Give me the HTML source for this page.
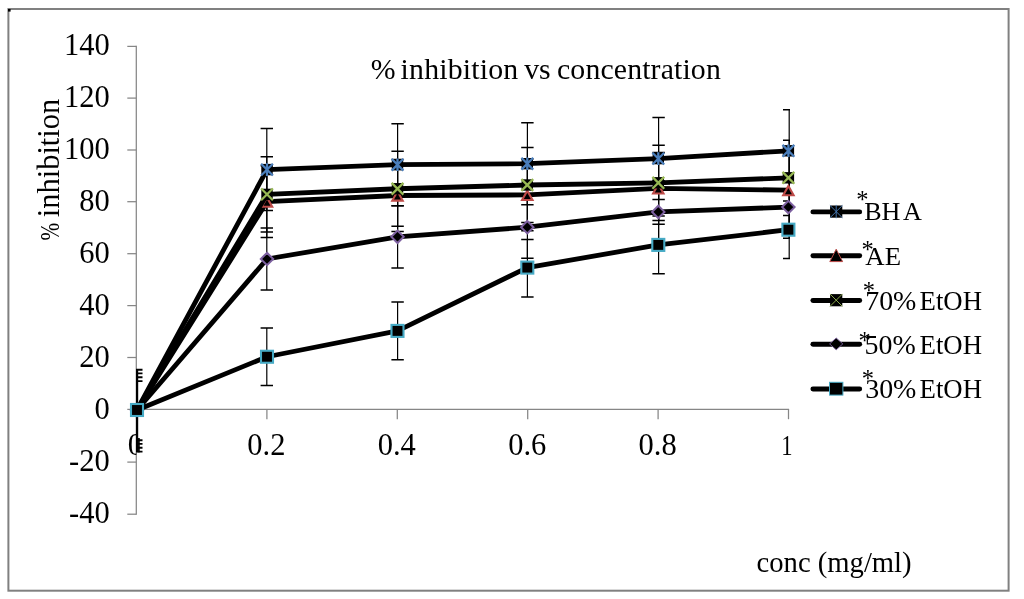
<!DOCTYPE html>
<html lang="en"><head><meta charset="utf-8"><title>% inhibition vs concentration</title>
<style>
html,body{margin:0;padding:0;background:#fff;}
body{width:1024px;height:599px;overflow:hidden;}
svg{display:block;}
text{font-family:"Liberation Serif","Times New Roman",serif;fill:#000;}
</style></head><body>
<svg width="1024" height="599" viewBox="0 0 1024 599">
<rect x="0" y="0" width="1024" height="599" fill="#fff"/>

<rect x="8.4" y="9" width="1000.2" height="581.7" fill="none" stroke="#808080" stroke-width="2"/>
<rect x="8" y="9" width="2.6" height="2.6" fill="#000"/>
<g stroke="#868686" stroke-width="1.25" fill="none">
<path d="M136.3,45.80V514.80"/>
<path d="M135.70,409.4H789.1"/>
<path d="M127.30,514.20H136.3"/>
<path d="M127.30,462.10H136.3"/>
<path d="M127.30,409.40H136.3"/>
<path d="M127.30,357.50H136.3"/>
<path d="M127.30,305.60H136.3"/>
<path d="M127.30,253.70H136.3"/>
<path d="M127.30,201.70H136.3"/>
<path d="M127.30,150.00H136.3"/>
<path d="M127.30,98.10H136.3"/>
<path d="M127.30,46.40H136.3"/>
<path d="M136.50,409.4V419.2"/>
<path d="M266.90,409.4V419.2"/>
<path d="M397.30,409.4V419.2"/>
<path d="M527.70,409.4V419.2"/>
<path d="M658.10,409.4V419.2"/>
<path d="M788.50,409.4V419.2"/>
</g>
<text x="109.7" y="55.40" font-size="30.5" text-anchor="end">140</text>
<text x="109.7" y="107.40" font-size="30.5" text-anchor="end">120</text>
<text x="109.7" y="159.40" font-size="30.5" text-anchor="end">100</text>
<text x="109.7" y="211.40" font-size="30.5" text-anchor="end">80</text>
<text x="109.7" y="263.40" font-size="30.5" text-anchor="end">60</text>
<text x="109.7" y="315.40" font-size="30.5" text-anchor="end">40</text>
<text x="109.7" y="367.40" font-size="30.5" text-anchor="end">20</text>
<text x="109.7" y="419.40" font-size="30.5" text-anchor="end">0</text>
<text x="109.7" y="471.40" font-size="30.5" text-anchor="end">-20</text>
<text x="109.7" y="523.40" font-size="30.5" text-anchor="end">-40</text>
<clipPath id="zc"><rect x="120" y="425" width="16.4" height="40"/></clipPath>
<text x="135.3" y="455.3" font-size="30.5" text-anchor="middle" clip-path="url(#zc)">0</text>
<rect x="137.6" y="438" width="2.2" height="14.4" fill="#111"/>
<text x="266.40" y="455.3" font-size="30.5" text-anchor="middle">0.2</text>
<text x="396.80" y="455.3" font-size="30.5" text-anchor="middle">0.4</text>
<text x="527.20" y="455.3" font-size="30.5" text-anchor="middle">0.6</text>
<text x="657.60" y="455.3" font-size="30.5" text-anchor="middle">0.8</text>
<text transform="translate(786.9,455.3) scale(0.74,0.965)" font-size="30.5" text-anchor="middle">1</text>
<text y="79" font-size="29.8"><tspan x="370.8">%</tspan> <tspan x="400.6" textLength="117.6" lengthAdjust="spacing">inhibition</tspan> <tspan x="524.2">vs</tspan> <tspan x="557.0" textLength="163.8" lengthAdjust="spacing">concentration</tspan></text>
<text transform="translate(59.4,240.6) rotate(-90) scale(0.8,1)" font-size="26.5">%</text>
<text transform="translate(59.4,217.3) rotate(-90)" font-size="30.5">inhibition</text>
<text x="756.6" y="571.6" font-size="29.5" textLength="155" lengthAdjust="spacingAndGlyphs">conc (mg/ml)</text>
<defs><clipPath id="pc"><rect x="135.9" y="40" width="654.2" height="480"/></clipPath></defs>
<g clip-path="url(#pc)" stroke="#000" stroke-width="1.4" fill="none">
<path d="M266.80,128.60V210.60M397.60,123.70V205.70M527.40,122.70V204.70M658.60,117.60V199.60M789.20,109.80V191.80" stroke-width="1.2"/>
<path d="M260.60,128.60H273.00M260.60,210.60H273.00M391.40,123.70H403.80M391.40,205.70H403.80M521.20,122.70H533.60M521.20,204.70H533.60M652.40,117.60H664.80M652.40,199.60H664.80M783.00,109.80H795.40M783.00,191.80H795.40" stroke-width="1.5"/>
<path d="M266.80,165.80V237.60M397.60,159.60V231.40M527.40,159.00V230.80M658.60,152.50V224.30M789.20,154.20V226.00" stroke-width="1.2"/>
<path d="M260.60,165.80H273.00M260.60,237.60H273.00M391.40,159.60H403.80M391.40,231.40H403.80M521.20,159.00H533.60M521.20,230.80H533.60M652.40,152.50H664.80M652.40,224.30H664.80M783.00,154.20H795.40M783.00,226.00H795.40" stroke-width="1.5"/>
<path d="M266.80,156.80V232.00M397.60,151.15V226.35M527.40,147.40V222.60M658.60,145.20V220.40M789.20,140.20V215.40" stroke-width="1.2"/>
<path d="M260.60,156.80H273.00M260.60,232.00H273.00M391.40,151.15H403.80M391.40,226.35H403.80M521.20,147.40H533.60M521.20,222.60H533.60M652.40,145.20H664.80M652.40,220.40H664.80M783.00,140.20H795.40M783.00,215.40H795.40" stroke-width="1.5"/>
<path d="M266.80,227.90V290.10M397.60,205.70V267.90M527.40,196.10V258.30M658.60,180.80V243.00M789.20,176.00V238.20" stroke-width="1.2"/>
<path d="M260.60,227.90H273.00M260.60,290.10H273.00M391.40,205.70H403.80M391.40,267.90H403.80M521.20,196.10H533.60M521.20,258.30H533.60M652.40,180.80H664.80M652.40,243.00H664.80M783.00,176.00H795.40M783.00,238.20H795.40" stroke-width="1.5"/>
<path d="M266.80,327.95V385.55M397.60,302.10V359.70M527.40,239.40V297.00M658.60,216.10V273.70M789.20,200.90V258.50" stroke-width="1.2"/>
<path d="M260.60,327.95H273.00M260.60,385.55H273.00M391.40,302.10H403.80M391.40,359.70H403.80M521.20,239.40H533.60M521.20,297.00H533.60M652.40,216.10H664.80M652.40,273.70H664.80M783.00,200.90H795.40M783.00,258.50H795.40" stroke-width="1.5"/>
</g>
<g clip-path="url(#pc)" stroke="#000" fill="none">
<path d="M137.05,369.8V451.6" stroke-width="2.3"/>
<path d="M130,369.8H142.5M130,373.4H142.5M130,377.3H142.5M130,381.1H142.5M130,440.3H142.5M130,443.9H142.5M130,447.7H142.5M130,451.6H142.5" stroke-width="1.9"/>
</g>
<polyline points="137.00,410.00 267.00,169.60 397.50,164.70 527.30,163.70 658.30,158.60 788.40,150.80" fill="none" stroke="#000" stroke-width="4.8" stroke-linejoin="round" stroke-linecap="round"/>
<rect x="131.30" y="404.30" width="11.4" height="11.4" fill="#000"/><path d="M131.10,404.10L142.90,415.90M142.90,404.10L131.10,415.90M137.00,403.70L137.00,416.30" stroke="#4A7EBB" stroke-width="2.3" fill="none" stroke-linecap="butt"/>
<rect x="261.30" y="163.90" width="11.4" height="11.4" fill="#000"/><path d="M261.10,163.70L272.90,175.50M272.90,163.70L261.10,175.50M267.00,163.30L267.00,175.90" stroke="#4A7EBB" stroke-width="2.3" fill="none" stroke-linecap="butt"/>
<rect x="391.80" y="159.00" width="11.4" height="11.4" fill="#000"/><path d="M391.60,158.80L403.40,170.60M403.40,158.80L391.60,170.60M397.50,158.40L397.50,171.00" stroke="#4A7EBB" stroke-width="2.3" fill="none" stroke-linecap="butt"/>
<rect x="521.60" y="158.00" width="11.4" height="11.4" fill="#000"/><path d="M521.40,157.80L533.20,169.60M533.20,157.80L521.40,169.60M527.30,157.40L527.30,170.00" stroke="#4A7EBB" stroke-width="2.3" fill="none" stroke-linecap="butt"/>
<rect x="652.60" y="152.90" width="11.4" height="11.4" fill="#000"/><path d="M652.40,152.70L664.20,164.50M664.20,152.70L652.40,164.50M658.30,152.30L658.30,164.90" stroke="#4A7EBB" stroke-width="2.3" fill="none" stroke-linecap="butt"/>
<rect x="782.70" y="145.10" width="11.4" height="11.4" fill="#000"/><path d="M782.50,144.90L794.30,156.70M794.30,144.90L782.50,156.70M788.40,144.50L788.40,157.10" stroke="#4A7EBB" stroke-width="2.3" fill="none" stroke-linecap="butt"/>
<polyline points="137.00,410.00 267.00,201.70 397.50,195.50 527.30,194.90 658.30,188.40 788.40,190.10" fill="none" stroke="#000" stroke-width="4.8" stroke-linejoin="round" stroke-linecap="round"/>
<polygon points="137.00,405.80 142.20,415.10 131.80,415.10" fill="#000" stroke="#BE4B48" stroke-width="2.1" stroke-linejoin="miter"/>
<polygon points="267.00,197.50 272.20,206.80 261.80,206.80" fill="#000" stroke="#BE4B48" stroke-width="2.1" stroke-linejoin="miter"/>
<polygon points="397.50,191.30 402.70,200.60 392.30,200.60" fill="#000" stroke="#BE4B48" stroke-width="2.1" stroke-linejoin="miter"/>
<polygon points="527.30,190.70 532.50,200.00 522.10,200.00" fill="#000" stroke="#BE4B48" stroke-width="2.1" stroke-linejoin="miter"/>
<polygon points="658.30,184.20 663.50,193.50 653.10,193.50" fill="#000" stroke="#BE4B48" stroke-width="2.1" stroke-linejoin="miter"/>
<polygon points="788.40,185.90 793.60,195.20 783.20,195.20" fill="#000" stroke="#BE4B48" stroke-width="2.1" stroke-linejoin="miter"/>
<polyline points="137.00,410.00 267.00,194.40 397.50,188.75 527.30,185.00 658.30,182.80 788.40,177.80" fill="none" stroke="#000" stroke-width="4.8" stroke-linejoin="round" stroke-linecap="round"/>
<rect x="131.30" y="404.30" width="11.4" height="11.4" fill="#000"/><path d="M131.10,404.10L142.90,415.90M142.90,404.10L131.10,415.90" stroke="#98B954" stroke-width="2.3" fill="none" stroke-linecap="butt"/>
<rect x="261.30" y="188.70" width="11.4" height="11.4" fill="#000"/><path d="M261.10,188.50L272.90,200.30M272.90,188.50L261.10,200.30" stroke="#98B954" stroke-width="2.3" fill="none" stroke-linecap="butt"/>
<rect x="391.80" y="183.05" width="11.4" height="11.4" fill="#000"/><path d="M391.60,182.85L403.40,194.65M403.40,182.85L391.60,194.65" stroke="#98B954" stroke-width="2.3" fill="none" stroke-linecap="butt"/>
<rect x="521.60" y="179.30" width="11.4" height="11.4" fill="#000"/><path d="M521.40,179.10L533.20,190.90M533.20,179.10L521.40,190.90" stroke="#98B954" stroke-width="2.3" fill="none" stroke-linecap="butt"/>
<rect x="652.60" y="177.10" width="11.4" height="11.4" fill="#000"/><path d="M652.40,176.90L664.20,188.70M664.20,176.90L652.40,188.70" stroke="#98B954" stroke-width="2.3" fill="none" stroke-linecap="butt"/>
<rect x="782.70" y="172.10" width="11.4" height="11.4" fill="#000"/><path d="M782.50,171.90L794.30,183.70M794.30,171.90L782.50,183.70" stroke="#98B954" stroke-width="2.3" fill="none" stroke-linecap="butt"/>
<polyline points="137.00,410.00 267.00,259.00 397.50,236.80 527.30,227.20 658.30,211.90 788.40,207.10" fill="none" stroke="#000" stroke-width="4.8" stroke-linejoin="round" stroke-linecap="round"/>
<polygon points="137.00,403.80 143.20,410.00 137.00,416.20 130.80,410.00" fill="#000" stroke="#7D60A0" stroke-width="2.0" stroke-linejoin="miter"/>
<polygon points="267.00,252.80 273.20,259.00 267.00,265.20 260.80,259.00" fill="#000" stroke="#7D60A0" stroke-width="2.0" stroke-linejoin="miter"/>
<polygon points="397.50,230.60 403.70,236.80 397.50,243.00 391.30,236.80" fill="#000" stroke="#7D60A0" stroke-width="2.0" stroke-linejoin="miter"/>
<polygon points="527.30,221.00 533.50,227.20 527.30,233.40 521.10,227.20" fill="#000" stroke="#7D60A0" stroke-width="2.0" stroke-linejoin="miter"/>
<polygon points="658.30,205.70 664.50,211.90 658.30,218.10 652.10,211.90" fill="#000" stroke="#7D60A0" stroke-width="2.0" stroke-linejoin="miter"/>
<polygon points="788.40,200.90 794.60,207.10 788.40,213.30 782.20,207.10" fill="#000" stroke="#7D60A0" stroke-width="2.0" stroke-linejoin="miter"/>
<polyline points="137.00,410.00 267.00,356.75 397.50,330.90 527.30,267.60 658.30,244.90 788.40,229.70" fill="none" stroke="#000" stroke-width="4.8" stroke-linejoin="round" stroke-linecap="round"/>
<rect x="131.00" y="404.00" width="12" height="12" fill="#000" stroke="#46AAC5" stroke-width="2.1"/>
<rect x="261.00" y="350.75" width="12" height="12" fill="#000" stroke="#46AAC5" stroke-width="2.1"/>
<rect x="391.50" y="324.90" width="12" height="12" fill="#000" stroke="#46AAC5" stroke-width="2.1"/>
<rect x="521.30" y="261.60" width="12" height="12" fill="#000" stroke="#46AAC5" stroke-width="2.1"/>
<rect x="652.30" y="238.90" width="12" height="12" fill="#000" stroke="#46AAC5" stroke-width="2.1"/>
<rect x="782.40" y="223.70" width="12" height="12" fill="#000" stroke="#46AAC5" stroke-width="2.1"/>
<path d="M812.9,211.9H859.7" stroke="#000" stroke-width="4.8999999999999995" stroke-linecap="round" fill="none"/>
<rect x="830.10" y="205.50" width="12.2" height="12.2" fill="#000"/><path d="M829.90,205.30L842.50,217.90M842.50,205.30L829.90,217.90M836.20,204.90L836.20,218.30" stroke="#4A7EBB" stroke-width="0.9" fill="none" stroke-linecap="butt"/>
<text x="864.2 881.5 903.0" y="220.30" font-size="26.1">BHA</text>
<text x="856.20" y="208.40" font-size="24.5">*</text>
<path d="M812.9,255.7H859.7" stroke="#000" stroke-width="4.8999999999999995" stroke-linecap="round" fill="none"/>
<polygon points="836.20,249.20 842.60,261.60 829.80,261.60" fill="#000" stroke="#BE4B48" stroke-width="1" stroke-linejoin="miter"/>
<text x="865.3" y="265.10" font-size="26.2" textLength="35.7" lengthAdjust="spacingAndGlyphs">AE</text>
<text x="861.60" y="257.70" font-size="24.5">*</text>
<path d="M812.9,300.5H859.7" stroke="#000" stroke-width="4.8999999999999995" stroke-linecap="round" fill="none"/>
<rect x="830.10" y="294.10" width="12.2" height="12.2" fill="#000"/><path d="M829.90,293.90L842.50,306.50M842.50,293.90L829.90,306.50" stroke="#98B954" stroke-width="0.9" fill="none" stroke-linecap="butt"/>
<text x="865.2" y="309.90" font-size="26.6" textLength="51.2" lengthAdjust="spacingAndGlyphs">70%</text>
<text x="919.6" y="309.90" font-size="26.6" textLength="62.4" lengthAdjust="spacingAndGlyphs">EtOH</text>
<text x="862.80" y="299.20" font-size="24.5">*</text>
<path d="M812.9,344.2H859.7" stroke="#000" stroke-width="4.8999999999999995" stroke-linecap="round" fill="none"/>
<polygon points="836.20,338.00 842.80,343.90 836.20,349.80 829.60,343.90" fill="#000" stroke="#7D60A0" stroke-width="0.9" stroke-linejoin="miter"/>
<text x="864.6" y="353.60" font-size="26.6" textLength="51.2" lengthAdjust="spacingAndGlyphs">50%</text>
<text x="919.6" y="353.60" font-size="26.6" textLength="62.4" lengthAdjust="spacingAndGlyphs">EtOH</text>
<text x="858.40" y="349.40" font-size="24.5">*</text>
<path d="M812.9,389.0H859.7" stroke="#000" stroke-width="4.8999999999999995" stroke-linecap="round" fill="none"/>
<rect x="829.50" y="382.30" width="13.4" height="12.8" fill="#000" stroke="#46AAC5" stroke-width="1"/>
<text x="865.2" y="398.40" font-size="26.6" textLength="51.2" lengthAdjust="spacingAndGlyphs">30%</text>
<text x="919.6" y="398.40" font-size="26.6" textLength="62.4" lengthAdjust="spacingAndGlyphs">EtOH</text>
<text x="861.80" y="387.00" font-size="24.5">*</text>
</svg>
</body></html>
